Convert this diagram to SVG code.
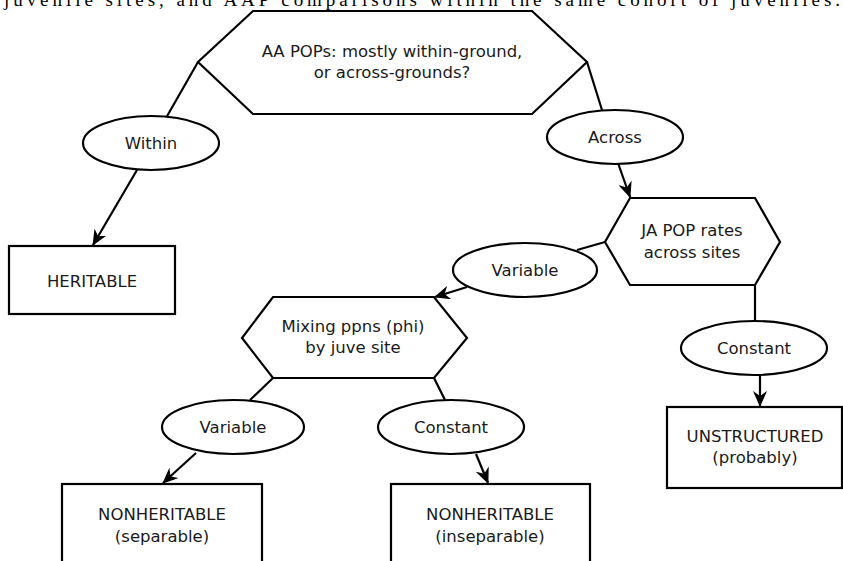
<svg xmlns="http://www.w3.org/2000/svg" width="843" height="561" viewBox="0 0 843 561">
<style>
.s{fill:#fff;stroke:#000;stroke-width:2.2}
.t{font-family:"DejaVu Sans",sans-serif;font-size:16.5px;fill:#1a1a1a;text-anchor:middle}
.c{fill:none;stroke:#000;stroke-width:2.2}
.a{marker-end:url(#ah)}
</style>
<defs>
<marker id="ah" viewBox="0 0 16 14" refX="15" refY="7" markerWidth="16" markerHeight="14" markerUnits="userSpaceOnUse" orient="auto">
<path d="M0,0 L16,7 L0,14 L5,7 Z" fill="#000"/>
</marker>
</defs>
<rect width="843" height="561" fill="#fff"/>
<text x="4" y="6" font-family="Liberation Serif, serif" font-size="19" fill="#000" textLength="836" lengthAdjust="spacing">juvenile sites, and AAP comparisons within the same cohort of juveniles.</text>
<g id="connectors">
<line class="c" x1="198" y1="62" x2="166" y2="118"/>
<line class="c a" x1="137" y1="170" x2="93" y2="245"/>
<line class="c" x1="587" y1="62" x2="602" y2="110"/>
<line class="c a" x1="618" y1="163" x2="630" y2="197"/>
<line class="c" x1="605" y1="242" x2="577" y2="250"/>
<line class="c a" x1="467" y1="287" x2="435" y2="297"/>
<line class="c" x1="755" y1="285" x2="755" y2="321"/>
<line class="c a" x1="760" y1="375" x2="760" y2="406"/>
<line class="c" x1="273" y1="378" x2="250" y2="400"/>
<line class="c" x1="434" y1="378" x2="445" y2="400"/>
<line class="c a" x1="196" y1="453" x2="163" y2="483"/>
<line class="c a" x1="476" y1="454" x2="488" y2="483"/>
</g>
<g id="q1">
<polygon class="s" points="253,11 532,11 587,62 532,114 253,114 198,62"/>
<text class="t" x="392" y="57">AA POPs: mostly within-ground,</text>
<text class="t" x="392" y="78">or across-grounds?</text>
</g>
<g id="within">
<ellipse class="s" cx="151" cy="143" rx="68" ry="27"/>
<text class="t" x="151" y="149">Within</text>
</g>
<g id="heritable">
<rect class="s" x="9" y="246" width="166" height="68"/>
<text class="t" x="92" y="287">HERITABLE</text>
</g>
<g id="across">
<ellipse class="s" cx="615" cy="137" rx="68" ry="27"/>
<text class="t" x="615" y="143">Across</text>
</g>
<g id="q2">
<polygon class="s" points="630,198 755,198 780,242 755,285 630,285 605,242"/>
<text class="t" x="692" y="236">JA POP rates</text>
<text class="t" x="692" y="258">across sites</text>
</g>
<g id="variable1">
<ellipse class="s" cx="525" cy="270" rx="72" ry="27"/>
<text class="t" x="525" y="276">Variable</text>
</g>
<g id="constant1">
<ellipse class="s" cx="754" cy="348" rx="73" ry="27"/>
<text class="t" x="754" y="354">Constant</text>
</g>
<g id="unstructured">
<rect class="s" x="667" y="407" width="175" height="81"/>
<text class="t" x="755" y="442">UNSTRUCTURED</text>
<text class="t" x="755" y="463">(probably)</text>
</g>
<g id="q3">
<polygon class="s" points="273,297 434,297 467,338 434,378 273,378 242,338"/>
<text class="t" x="353" y="332">Mixing ppns (phi)</text>
<text class="t" x="353" y="353">by juve site</text>
</g>
<g id="variable2">
<ellipse class="s" cx="233" cy="427" rx="71" ry="27"/>
<text class="t" x="233" y="433">Variable</text>
</g>
<g id="constant2">
<ellipse class="s" cx="451" cy="427" rx="73" ry="27"/>
<text class="t" x="451" y="433">Constant</text>
</g>
<g id="nonheritable-sep">
<rect class="s" x="62" y="484" width="200" height="90"/>
<text class="t" x="162" y="520">NONHERITABLE</text>
<text class="t" x="162" y="542">(separable)</text>
</g>
<g id="nonheritable-insep">
<rect class="s" x="391" y="484" width="199" height="90"/>
<text class="t" x="490" y="520">NONHERITABLE</text>
<text class="t" x="490" y="542">(inseparable)</text>
</g>
</svg>
